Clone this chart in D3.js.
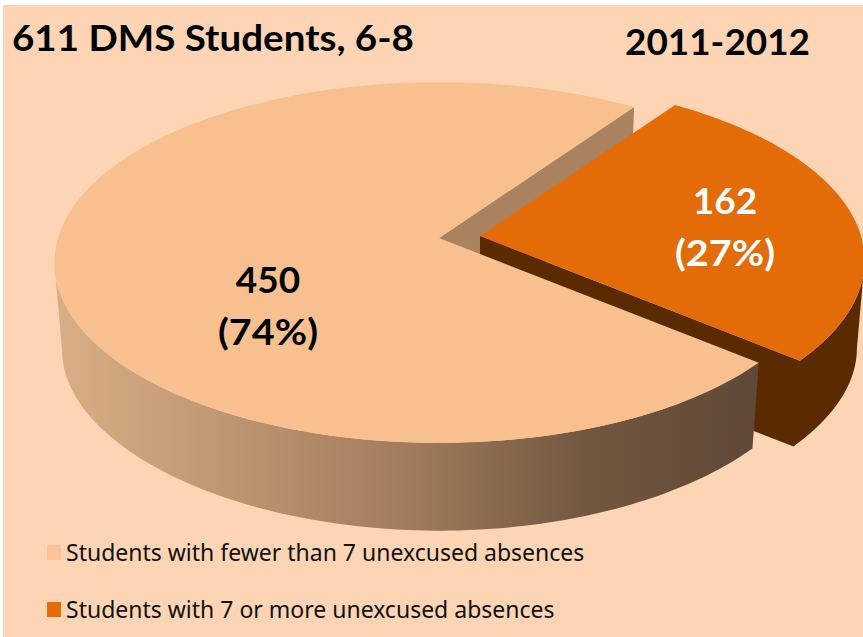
<!DOCTYPE html>
<html>
<head>
<meta charset="utf-8">
<script src="https://cdn.jsdelivr.net/npm/d3@7"></script>
<style>
  html, body { margin: 0; padding: 0; background: #fff; }
  svg { display: block; }
  text { font-family: Lato, "Noto Sans", sans-serif; }
</style>
</head>
<body>
<svg id="chart" width="863" height="637"></svg>
<script>
// Student counts per absence band
const categories = ["Students with fewer than 7 unexcused absences", "Students with 7 or more unexcused absences"];
const counts = [450, 162];
const shares = ["(74%)", "(27%)"];
const chartTitle = "611 DMS Students, 6-8";
const yearLabel = "2011-2012";

const topColors = ["#f7c08e", "#e36c09"];
const swatchColors = ["#fbc397", "#e36c09"];

const W = 863, H = 637;
const svg = d3.select("#chart");
const defs = svg.append("defs");

// Shading across the curved wall of the large slice
const wall = defs.append("linearGradient")
  .attr("id", "wallShade")
  .attr("gradientUnits", "userSpaceOnUse")
  .attr("x1", 60).attr("x2", 756).attr("y1", 0).attr("y2", 0);
[[0, "#d9ae86"], [0.25, "#bd9570"], [0.5, "#a17c5c"], [0.75, "#735840"], [1, "#5f4838"]]
  .forEach(([o, c]) => wall.append("stop").attr("offset", o).attr("stop-color", c));

// Page background, inset by a thin white margin at the top and left
svg.append("rect").attr("x", 3).attr("y", 5).attr("width", W - 3).attr("height", H - 5).attr("fill", "#fdd5b5");

// Perspective discs: angle is clockwise from the far side of the plate.
// The lower plate is seen at a steeper tilt than the upper one.
const upperPlate = { rx: 381, ry: 177, kx: 0.136, ky: 0.136, drop: 0 };
const lowerPlate = { rx: 373.4, ry: 167, kx: 0.136, ky: 0.18, drop: 89 };

function project(angle, r, apex, plate) {
  const u = r * Math.sin(angle), v = r * Math.cos(angle);
  return [
    apex[0] + plate.rx * u / (1 + plate.kx * v),
    apex[1] + plate.drop - plate.ry * v / (1 + plate.ky * v)
  ];
}

const deg = d => d * Math.PI / 180;
const start = deg(130);
const slices = d3.pie().sort(null).startAngle(start).endAngle(start + 2 * Math.PI)(counts);

const line = d3.line().curve(d3.curveLinear);
const arcAngles = (a0, a1) => d3.range(0, 121).map(i => a0 + (a1 - a0) * i / 120);

const apexes = [[439, 238], [480, 236]];

function topFace(s, apex) {
  const pts = arcAngles(s.startAngle, s.endAngle).map(a => project(a, 1, apex, upperPlate));
  return line([project(0, 0, apex, upperPlate), ...pts]) + "Z";
}
function cutFace(angle, apex) {
  return line([project(0, 0, apex, upperPlate), project(angle, 1, apex, upperPlate),
               project(angle, 1, apex, lowerPlate), project(0, 0, apex, lowerPlate)]) + "Z";
}
function band(a0, a1, apex) {
  const upper = arcAngles(a0, a1).map(a => project(a, 1, apex, upperPlate));
  const lower = arcAngles(a1, a0).map(a => project(a, 1, apex, lowerPlate));
  return line([...upper, ...lower]) + "Z";
}
// Cut face and curved wall joined into one outline, so no seam shows at the corner
function cutAndWall(cutAngle, wallEnd, apex) {
  const upper = arcAngles(cutAngle, wallEnd).map(a => project(a, 1, apex, upperPlate));
  const lower = arcAngles(wallEnd, cutAngle).map(a => project(a, 1, apex, lowerPlate));
  return line([project(0, 0, apex, upperPlate), ...upper, ...lower, project(0, 0, apex, lowerPlate)]) + "Z";
}

const [big, small] = slices;
const leftSilhouette = deg(262), rightSilhouette = deg(98);

// Painter's order: rear cut, small slice walls, big slice wall, then the tops
svg.append("path").attr("d", cutFace(big.endAngle, apexes[0])).attr("fill", "#a9825f");
svg.append("path").attr("d", cutAndWall(small.endAngle - 2 * Math.PI, rightSilhouette, apexes[1])).attr("fill", "#5a2b00");
svg.append("path").attr("d", band(big.startAngle, leftSilhouette, apexes[0])).attr("fill", "url(#wallShade)");
svg.append("path").attr("d", topFace(big, apexes[0])).attr("fill", topColors[0]);
svg.append("path").attr("d", topFace(small, apexes[1])).attr("fill", topColors[1]);

// Headings
svg.append("text").attr("x", 12).attr("y", 51)
  .attr("font-size", 37).attr("font-weight", 700).attr("fill", "#000")
  .attr("textLength", 402).attr("lengthAdjust", "spacingAndGlyphs").text(chartTitle);
svg.append("text").attr("x", 625).attr("y", 55)
  .attr("font-size", 37).attr("font-weight", 700).attr("fill", "#000")
  .attr("textLength", 185).attr("lengthAdjust", "spacingAndGlyphs").text(yearLabel);

// Value labels on the slices
const labelPos = [[268, 293, 345, "#000"], [725, 214, 266, "#fff"]];
counts.forEach((c, i) => {
  const [x, y1, y2, col] = labelPos[i];
  const g = svg.append("g").attr("text-anchor", "middle").attr("font-size", 37)
    .attr("font-weight", 700).attr("fill", col);
  g.append("text").attr("x", x).attr("y", y1).text(c);
  g.append("text").attr("x", x).attr("y", y2)
    .attr("textLength", 100).attr("lengthAdjust", "spacingAndGlyphs").text(shares[i]);
});

// Legend
const legendY = d3.scalePoint().domain(categories).range([553, 610]);
const legend = svg.append("g");
categories.forEach((c, i) => {
  const y = legendY(c);
  legend.append("rect").attr("x", 47).attr("y", y - 8).attr("width", 14).attr("height", 15).attr("fill", swatchColors[i]);
  legend.append("text").attr("x", 66).attr("y", y + 8)
    .attr("font-size", 23).attr("fill", "#111")
    .style("font-family", '"Noto Sans", sans-serif').text(c);
});
</script>
</body>
</html>
